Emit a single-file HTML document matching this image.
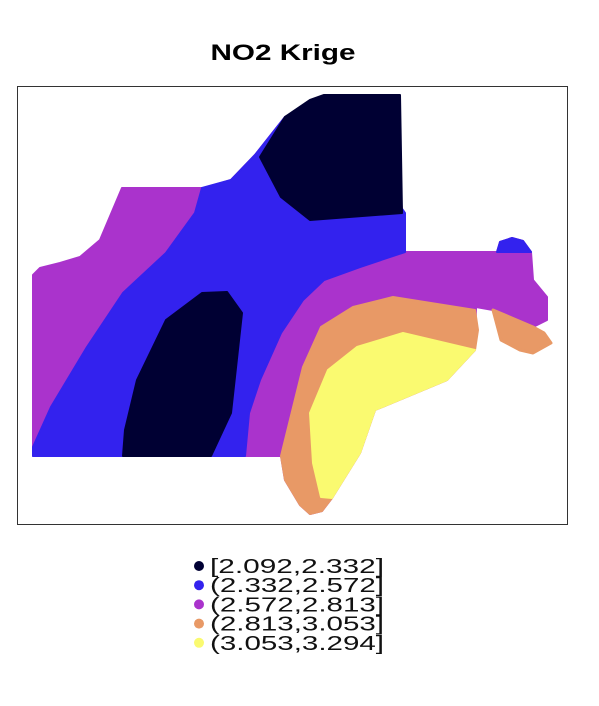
<!DOCTYPE html>
<html><head><meta charset="utf-8"><style>
html,body{margin:0;padding:0;background:#fff;}
svg{display:block;font-family:"Liberation Sans",Arial,sans-serif;}
</style></head><body>
<svg width="599" height="706" viewBox="0 0 599 706">
<text x="283" y="60" text-anchor="middle" font-size="22" font-weight="bold" textLength="145" lengthAdjust="spacingAndGlyphs">NO2 Krige</text>
<rect x="17.5" y="86.5" width="550" height="438" fill="none" stroke="#333" stroke-width="1"/>
<g id="regions"></g>
<g id="legend"></g>
</svg>
<script>
const classLabels = ["[2.092,2.332]","(2.332,2.572]","(2.572,2.813]","(2.813,3.053]","(3.053,3.294]"];
const classColors = ["#000033","#3322ee","#aa33cc","#e89966","#fafa70"];
const classIndex = [2,1,3,4,1,0,0];
const regionNames = ["purple-outline-zone","blue-zone","orange-zone","yellow-zone","blue-blob","dark-zone-north","dark-zone-south"];
const regionShapes = [
 [[33,275],[40,268],[60,263],[80,257],[100,240],[122,188],[205,188],[231,180],[255,155],[285,117],[322,97],[398,97],[400,130],[398,170],[402,210],[404,252],[497,252],[500,242],[512,238],[523,241],[531,252],[533,280],[547,297],[547,320],[533,327],[493,310],[476,307],[475,350],[447,380],[375,410],[360,453],[332,498],[322,511],[310,514],[300,505],[285,480],[281,456],[33,456]],
 [[202,188],[231,180],[255,155],[285,117],[322,97],[405,213],[405,252],[360,267],[324,280],[303,300],[281,333],[260,380],[249,413],[245,456],[33,456],[33,447],[51,407],[87,347],[123,293],[166,253],[195,213]],
 [[475,310],[393,297],[353,307],[321,327],[303,367],[281,456],[285,480],[300,505],[310,514],[322,511],[332,498],[360,453],[375,410],[447,380],[475,350],[478,330]],
 [[403,333],[475,350],[447,380],[375,410],[360,453],[332,498],[321,497],[313,463],[310,413],[328,370],[357,347]],
 [[497,252],[500,242],[512,238],[523,241],[531,252]],
 [[324,95],[400,95],[402,213],[310,220],[281,197],[260,157],[285,117],[310,100]],
 [[123,456],[211,456],[231,413],[242,313],[227,292],[202,293],[166,320],[137,380],[125,430]]
];
const lobe = [[493,310],[501,340],[520,350],[533,353],[551,343],[544,333],[533,327]];
const NS="http://www.w3.org/2000/svg";
const g=document.getElementById('regions');
regionShapes.forEach((pts,i)=>{
  const p=document.createElementNS(NS,'polygon');
  p.setAttribute('points',pts.map(q=>q.join(',')).join(' '));
  p.setAttribute('fill',classColors[classIndex[i]]);
  p.setAttribute('stroke',classColors[classIndex[i]]);
  p.setAttribute('stroke-width','2');
  p.setAttribute('stroke-linejoin','round');
  
  
  g.appendChild(p);
  if(i===0){
    const l=document.createElementNS(NS,'polygon');
    l.setAttribute('points',lobe.map(q=>q.join(',')).join(' '));
    l.setAttribute('fill',classColors[3]);
    l.setAttribute('stroke',classColors[3]);
    l.setAttribute('stroke-width','3');
    l.setAttribute('stroke-linejoin','round');
    
    
    g.appendChild(l);
  }
});
const lg=document.getElementById('legend');
classLabels.forEach((t,i)=>{
  const y=566+i*19.2;
  const c=document.createElementNS(NS,'circle');
  c.setAttribute('cx',199);c.setAttribute('cy',y);c.setAttribute('r',5);
  c.setAttribute('fill',classColors[i]);
  
  
  lg.appendChild(c);
  const tx=document.createElementNS(NS,'text');
  tx.setAttribute('x',210);tx.setAttribute('y',y+7);
  tx.setAttribute('font-size','20');
  tx.setAttribute('textLength','174');
  tx.setAttribute('lengthAdjust','spacingAndGlyphs');
  tx.setAttribute('fill','#111');
  tx.textContent=t;
  
  
  lg.appendChild(tx);
});
</script>
</body></html>
